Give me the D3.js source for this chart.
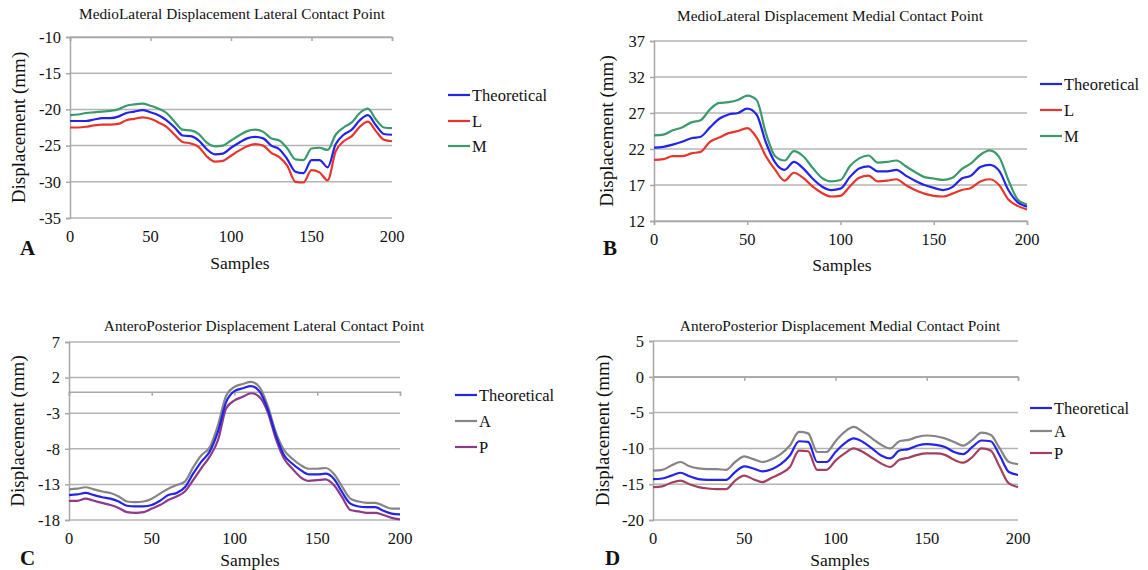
<!DOCTYPE html>
<html><head><meta charset="utf-8">
<script src="https://cdn.jsdelivr.net/npm/d3@7/dist/d3.min.js"></script>
<style>body{margin:0;background:#fff}svg{display:block}</style>
</head><body>
<svg id="chart" width="1148" height="570"></svg>
<script>
// ---------- DATA ----------
const samples = [0,5,10,15,20,25,30,35,40,45,50,55,60,65,70,75,80,85,90,95,100,105,110,115,120,125,130,135,140,145,150,155,160,165,170,175,180,185,190,195,200];
const xTicks = [0,50,100,150,200];

// Panel A: MedioLateral Displacement Lateral Contact Point
const titleA = "MedioLateral Displacement Lateral Contact Point";
const yTicksA = [-10,-15,-20,-25,-30,-35];
const theoA = [-21.6,-21.6,-21.6,-21.4,-21.2,-21.2,-21.0,-20.5,-20.3,-20.1,-20.4,-20.8,-21.5,-22.5,-23.6,-23.7,-24.3,-25.5,-26.2,-26.1,-25.3,-24.6,-24.0,-23.8,-24.0,-25.0,-25.5,-26.9,-28.6,-28.8,-27.0,-27.0,-28.0,-24.8,-23.5,-22.8,-21.5,-20.8,-22.2,-23.4,-23.5];
const lA    = [-22.5,-22.5,-22.4,-22.2,-22.1,-22.1,-22.0,-21.5,-21.3,-21.1,-21.3,-21.8,-22.4,-23.5,-24.5,-24.7,-25.2,-26.5,-27.2,-27.1,-26.4,-25.7,-25.1,-24.8,-25.0,-26.0,-26.6,-27.8,-30.0,-30.1,-28.4,-28.7,-29.8,-25.8,-24.4,-23.7,-22.4,-21.7,-23.0,-24.2,-24.4];
const mA    = [-20.8,-20.7,-20.5,-20.4,-20.3,-20.2,-20.0,-19.5,-19.3,-19.2,-19.5,-19.9,-20.5,-21.7,-22.8,-22.9,-23.4,-24.6,-25.1,-25.0,-24.3,-23.6,-23.0,-22.8,-23.1,-24.0,-24.3,-25.4,-26.9,-27.0,-25.4,-25.3,-25.6,-23.5,-22.5,-21.8,-20.5,-19.9,-21.4,-22.5,-22.6];

// Panel B: MedioLateral Displacement Medial Contact Point
const titleB = "MedioLateral Displacement Medial Contact Point";
const yTicksB = [37,32,27,22,17,12];
const theoB = [22.2,22.3,22.6,23.0,23.5,23.7,25.0,26.2,26.8,27.0,27.6,26.8,22.9,20.1,19.1,20.2,19.3,17.9,16.8,16.3,16.5,18.1,19.3,19.6,18.9,18.9,19.1,18.3,17.6,17.0,16.6,16.3,16.7,17.9,18.3,19.5,19.8,19.0,16.3,14.6,14.0];
const lB    = [20.5,20.6,21.0,21.0,21.4,21.6,23.0,23.6,24.2,24.5,24.9,23.6,21.0,19.1,17.6,18.7,18.0,16.8,15.9,15.4,15.5,16.8,18.0,18.3,17.5,17.6,17.8,17.0,16.3,15.8,15.5,15.4,15.8,16.3,16.6,17.5,17.8,17.0,15.0,14.1,13.6];
const mB    = [23.9,24.0,24.6,25.0,25.7,26.0,27.5,28.4,28.5,28.8,29.4,28.8,24.2,21.0,20.4,21.7,21.0,19.4,18.0,17.5,17.7,19.6,20.7,21.1,20.1,20.2,20.4,19.6,18.8,18.1,17.9,17.7,18.0,19.2,20.0,21.2,21.8,20.9,17.7,15.0,14.3];

// Panel C: AnteroPosterior Displacement Lateral Contact Point
const titleC = "AnteroPosterior Displacement Lateral Contact Point";
const yTicksC = [7,2,-3,-8,-13,-18];
const theoC = [-14.5,-14.4,-14.2,-14.5,-14.8,-15.0,-15.4,-16.0,-16.1,-16.1,-15.9,-15.3,-14.5,-14.2,-13.4,-11.5,-9.8,-8.4,-5.6,-1.4,0.1,0.5,0.8,0.1,-2.4,-6.1,-8.9,-10.1,-11.0,-11.6,-11.6,-11.5,-12.2,-14.1,-15.7,-16.1,-16.2,-16.2,-16.7,-17.1,-17.2];
const aC    = [-13.7,-13.6,-13.4,-13.7,-14.0,-14.2,-14.7,-15.4,-15.5,-15.4,-15.0,-14.3,-13.6,-13.1,-12.6,-10.6,-8.9,-7.8,-4.7,-0.5,0.7,1.1,1.4,0.7,-1.9,-5.7,-8.2,-9.4,-10.3,-10.8,-10.8,-10.7,-11.5,-13.3,-15.0,-15.4,-15.6,-15.6,-16.0,-16.4,-16.4];
const pC    = [-15.3,-15.3,-15.0,-15.3,-15.6,-15.9,-16.3,-16.9,-17.0,-16.9,-16.4,-15.9,-15.2,-14.7,-14.0,-12.4,-10.7,-9.1,-6.8,-2.3,-1.2,-0.7,-0.2,-0.7,-2.8,-6.6,-9.4,-10.8,-12.0,-12.5,-12.4,-12.3,-13.1,-14.8,-16.6,-16.8,-17.0,-17.0,-17.3,-17.7,-17.9];

// Panel D: AnteroPosterior Displacement Medial Contact Point
const titleD = "AnteroPosterior Displacement Medial Contact Point";
const yTicksD = [5,0,-5,-10,-15,-20];
const theoD = [-14.3,-14.2,-13.8,-13.4,-13.9,-14.3,-14.4,-14.4,-14.4,-13.3,-12.5,-12.8,-13.2,-12.9,-12.2,-11.0,-9.0,-9.1,-11.9,-11.9,-10.5,-9.3,-8.6,-9.1,-10.0,-11.0,-11.4,-10.3,-10.1,-9.6,-9.4,-9.5,-9.8,-10.5,-10.8,-9.8,-8.9,-9.0,-11.0,-13.3,-13.7];
const aD    = [-13.1,-13.0,-12.4,-11.9,-12.5,-12.8,-12.9,-12.9,-13.0,-11.9,-11.1,-11.5,-11.9,-11.5,-10.8,-9.6,-7.7,-7.9,-10.5,-10.5,-9.0,-7.7,-7.0,-7.7,-8.6,-9.5,-10.0,-9.0,-8.8,-8.4,-8.2,-8.3,-8.6,-9.1,-9.6,-8.8,-7.8,-8.1,-10.0,-11.9,-12.2];
const pD    = [-15.4,-15.3,-14.8,-14.5,-15.0,-15.4,-15.6,-15.7,-15.7,-14.5,-13.8,-14.3,-14.7,-14.1,-13.5,-12.6,-10.3,-10.4,-13.0,-13.0,-11.7,-10.7,-10.0,-10.5,-11.3,-12.1,-12.6,-11.6,-11.3,-10.9,-10.7,-10.7,-10.9,-11.6,-12.0,-11.2,-10.0,-10.3,-12.6,-14.9,-15.4];

// ---------- DRAW ----------
const svg = d3.select("#chart");
const serif = "'Liberation Serif','Times New Roman',serif";

const panels = [
  {letter:"A", title:titleA, yTicks:yTicksA, axisAt:-10, x0:70, x1:392, yTop:37, yBot:218,
   titleX:232, titleY:19, letterX:20, letterY:255, samplesX:240, samplesY:269, yLabX:25, legX:448, legY:[95,121,146],
   series:[{name:"Theoretical",v:theoA,c:"#2424e6"},{name:"L",v:lA,c:"#e8352c"},{name:"M",v:mA,c:"#3a9a6c"}]},
  {letter:"B", title:titleB, yTicks:yTicksB, axisAt:12, x0:654, x1:1027, yTop:41, yBot:221,
   titleX:830, titleY:21, letterX:603, letterY:255, samplesX:842, samplesY:271, yLabX:613, legX:1040, legY:[84,110,136],
   series:[{name:"Theoretical",v:theoB,c:"#2424e6"},{name:"L",v:lB,c:"#e8352c"},{name:"M",v:mB,c:"#3a9a6c"}]},
  {letter:"C", title:titleC, yTicks:yTicksC, axisAt:0, x0:69, x1:400, yTop:342, yBot:520,
   titleX:264, titleY:331, letterX:20, letterY:565, samplesX:250, samplesY:566, yLabX:24, legX:455, legY:[395,421,447],
   series:[{name:"Theoretical",v:theoC,c:"#2424e6"},{name:"A",v:aC,c:"#858585"},{name:"P",v:pC,c:"#8c3a8c"}]},
  {letter:"D", title:titleD, yTicks:yTicksD, axisAt:0, x0:653, x1:1018, yTop:341, yBot:520,
   titleX:840, titleY:331, letterX:605, letterY:565, samplesX:840, samplesY:566, yLabX:609, legX:1030, legY:[408,431,453],
   series:[{name:"Theoretical",v:theoD,c:"#2424e6"},{name:"A",v:aD,c:"#858585"},{name:"P",v:pD,c:"#a3405e"}]}
];

panels.forEach(p => {
  const g = svg.append("g");
  const x = d3.scaleLinear().domain([0,200]).range([p.x0,p.x1]);
  const yMin = d3.min(p.yTicks), yMax = d3.max(p.yTicks);
  const y = d3.scaleLinear().domain([yMin,yMax]).range([p.yBot,p.yTop]);

  // gridlines
  g.append("g").selectAll("line").data(p.yTicks).join("line")
    .attr("x1",p.x0).attr("x2",p.x1)
    .attr("y1",d=>y(d)).attr("y2",d=>y(d))
    .attr("stroke","#b4b4b4").attr("stroke-width",1.5);

  // y axis
  const ya = g.append("g").attr("transform",`translate(${p.x0},0)`)
    .call(d3.axisLeft(y).tickValues(p.yTicks).tickSize(4).tickPadding(5).tickFormat(d3.format("d")));
  ya.select(".domain").attr("stroke","#a8a8a8").attr("stroke-width",1.5);
  ya.selectAll(".tick line").attr("stroke","#a8a8a8").attr("stroke-width",1.5);
  ya.selectAll("text").attr("font-family",serif).attr("font-size",16.5).attr("fill","#111")
    .text(d => d < 0 ? "-" + Math.abs(d) : d);

  // horizontal axis line (crossing) with ticks
  const ax = g.append("g").attr("transform",`translate(0,${y(p.axisAt)})`)
    .call(d3.axisBottom(x).tickValues(xTicks).tickSize(4).tickFormat(""));
  ax.select(".domain").attr("stroke","#a8a8a8").attr("stroke-width",1.5);
  ax.selectAll(".tick line").attr("stroke","#a8a8a8").attr("stroke-width",1.5);

  // x tick labels at bottom
  g.append("g").selectAll("text").data(xTicks).join("text")
    .attr("x",d=>x(d)).attr("y",p.yBot+24)
    .attr("text-anchor","middle").attr("font-family",serif).attr("font-size",16.5).attr("fill","#111")
    .text(d=>d);

  // series lines
  const line = d3.line().x((d,i)=>x(samples[i])).y(d=>y(d)).curve(d3.curveMonotoneX);
  p.series.slice().reverse().forEach(s => {
    g.append("path").datum(s.v).attr("d",line)
      .attr("fill","none").attr("stroke",s.c).attr("stroke-width",2.2);
  });

  // title
  g.append("text").attr("x",p.titleX).attr("y",p.titleY).attr("text-anchor","middle")
    .attr("font-family",serif).attr("font-size",15.3).attr("fill","#111").text(p.title);
  // samples label
  g.append("text").attr("x",p.samplesX).attr("y",p.samplesY).attr("text-anchor","middle")
    .attr("font-family",serif).attr("font-size",17.5).attr("fill","#111").text("Samples");
  // y label
  g.append("text").attr("transform",`translate(${p.yLabX},${(p.yTop+p.yBot)/2}) rotate(-90)`)
    .attr("text-anchor","middle").attr("font-family",serif).attr("font-size",19).attr("fill","#111")
    .text("Displacement (mm)");
  // letter
  g.append("text").attr("x",p.letterX).attr("y",p.letterY)
    .attr("font-family",serif).attr("font-size",21).attr("font-weight","bold").attr("fill","#111").text(p.letter);

  // legend
  p.series.forEach((s,i) => {
    g.append("line").attr("x1",p.legX).attr("x2",p.legX+22)
      .attr("y1",p.legY[i]).attr("y2",p.legY[i]).attr("stroke",s.c).attr("stroke-width",2.2);
    g.append("text").attr("x",p.legX+24).attr("y",p.legY[i]).attr("dy","0.35em")
      .attr("font-family",serif).attr("font-size",16.5).attr("fill","#111").text(s.name);
  });
});
</script>
</body></html>
